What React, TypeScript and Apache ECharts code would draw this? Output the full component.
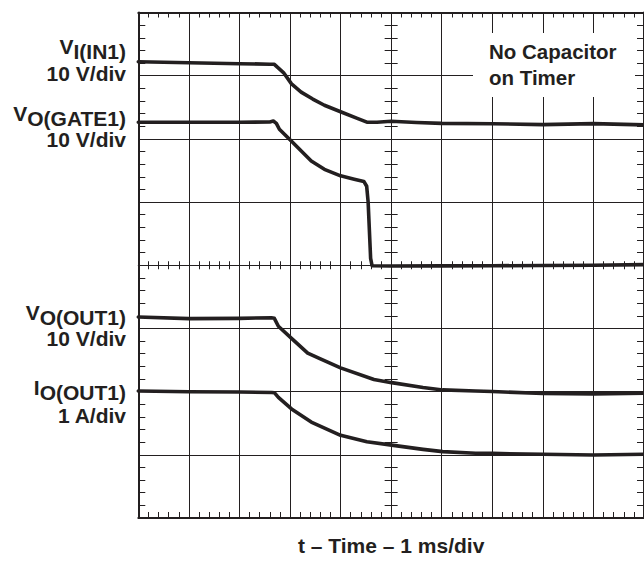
import React, { useEffect, useRef } from "react";
import * as echarts from "echarts";

// Trace samples: [time in ms from screen centre, level in divisions from screen centre]
const vIn1: [number, number][] = [
  [-5, 3.22], [-4, 3.205], [-3, 3.19], [-2.4, 3.182], [-2.31, 3.18], [-2.25, 3.135],
  [-2.13, 3.05], [-1.97, 2.87], [-1.78, 2.74], [-1.55, 2.63], [-1.32, 2.532],
  [-1.0, 2.43], [-0.67, 2.325], [-0.48, 2.264], [-0.28, 2.264], [0.0, 2.28],
  [0.5, 2.26], [1.0, 2.246], [2.0, 2.24], [3.0, 2.225], [4.0, 2.242], [5.0, 2.222],
];
const vGate1: [number, number][] = [
  [-5, 2.262], [-4, 2.262], [-3, 2.262], [-2.4, 2.268], [-2.33, 2.282], [-2.27, 2.246],
  [-2.21, 2.153], [-1.97, 1.961], [-1.58, 1.649], [-1.32, 1.518], [-1.0, 1.415],
  [-0.73, 1.362], [-0.54, 1.327], [-0.484, 1.25], [-0.455, 1.0], [-0.406, 0.11],
  [-0.377, -0.008], [0, -0.012], [1, -0.01], [2, -0.008], [3, -0.004], [4, 0.0], [5, 0.01],
];
const vOut1: [number, number][] = [
  [-5, -0.82], [-4, -0.845], [-3, -0.84], [-2.37, -0.83], [-2.31, -0.84], [-2.23, -0.965],
  [-1.97, -1.157], [-1.65, -1.391], [-1.41, -1.479], [-1.0, -1.624], [-0.34, -1.807],
  [0.01, -1.858], [0.63, -1.936], [1.02, -1.973], [1.67, -1.989], [2.0, -1.998],
  [3.0, -2.03], [4.0, -2.035], [5.0, -2.025],
];
const iOut1: [number, number][] = [
  [-5, -1.989], [-4, -2.002], [-3, -2.006], [-2.36, -2.014], [-2.31, -2.017], [-2.23, -2.092],
  [-1.97, -2.274], [-1.58, -2.482], [-1.0, -2.691], [-0.48, -2.794], [0.01, -2.847],
  [0.63, -2.914], [1.02, -2.95], [1.67, -2.976], [2.0, -2.978], [3.0, -2.992],
  [4.0, -3.003], [5.0, -2.992],
];

const channelMain = ["V", "V", "V", "I"];
const channelSub = ["I(IN1)", "O(GATE1)", "O(OUT1)", "O(OUT1)"];
const channelScale = ["10 V/div", "10 V/div", "10 V/div", "1 A/div"];
const xAxisTitle = "t – Time – 1 ms/div";
const noteLines = ["No Capacitor", "on Timer"];

// Layout / style
const INK = "#231f20";
const FAMILY = '"Liberation Sans", Arial, Helvetica, sans-serif';
const LABEL_FONT = `bold 21px ${FAMILY}`;
const NOTE_FONT = `bold 20.5px ${FAMILY}`;
const labelRight = 126;
const labelHeadY = [49.3, 116.3, 315.3, 390.3];
const labelScaleY = [73.3, 139.8, 338.8, 415.3];

function buildOption(): any {
  const tickLine = { color: INK, width: 1 };
  const xBase = { type: "value", min: -5, max: 5, interval: 1, axisLabel: { show: false }, splitLine: { show: false } };
  const yBase = { type: "value", min: -4, max: 4, interval: 1, axisLabel: { show: false }, splitLine: { show: false } };
  const ticks = (inside: boolean, length: number) => ({
    axisTick: { show: true, inside, length, lineStyle: tickLine },
    minorTick: { show: true, splitNumber: 5, length, lineStyle: tickLine },
  });
  const border = { onZero: false, lineStyle: { color: INK, width: 2 } };
  const centre = { onZero: true, onZeroAxisIndex: 0, lineStyle: { color: INK, width: 1 } };

  const xAxis = [
    {
      ...xBase, position: "bottom", axisLine: border, ...ticks(true, 6),
      splitLine: { show: true, lineStyle: { color: INK, width: 1 } },
      name: xAxisTitle, nameLocation: "middle", nameGap: 19,
      nameTextStyle: { color: INK, fontSize: 21, fontWeight: "bold", fontFamily: FAMILY, lineHeight: 17 },
    },
    { ...xBase, position: "top", axisLine: border, ...ticks(true, 5) },
    { ...xBase, axisLine: centre, ...ticks(true, 4) },
    { ...xBase, axisLine: centre, ...ticks(false, 4) },
  ];
  const yAxis = [
    {
      ...yBase, position: "left", axisLine: border, ...ticks(true, 7),
      splitLine: { show: true, lineStyle: { color: INK, width: 1 } },
    },
    { ...yBase, position: "right", axisLine: border, ...ticks(true, 7) },
    { ...yBase, axisLine: centre, ...ticks(true, 6.5) },
    { ...yBase, axisLine: centre, ...ticks(false, 6.5) },
  ];

  const traces = [vIn1, vGate1, vOut1, iOut1];
  const series = traces.map((data, i) => ({
    type: "line",
    name: channelMain[i] + channelSub[i],
    xAxisIndex: 0,
    yAxisIndex: 0,
    data,
    showSymbol: false,
    symbol: "none",
    smooth: false,
    z: 5,
    lineStyle: { color: INK, width: 3.6, cap: "round", join: "round" },
  }));

  const graphic: any[] = [
    { type: "rect", z: 100, silent: true, shape: { x: 473, y: 33, width: 162, height: 64 }, style: { fill: "#ffffff" } },
    {
      type: "text", z: 101, x: 489, y: 64.3,
      style: { text: noteLines.join("\n"), font: NOTE_FONT, fill: INK, textAlign: "left", textVerticalAlign: "middle", lineHeight: 26.4 },
    },
  ];
  channelMain.forEach((m, i) => {
    graphic.push({
      type: "text", z: 101, x: labelRight, y: labelHeadY[i],
      style: {
        text: `{m|${m}}{s|${channelSub[i]}}`,
        font: LABEL_FONT, fill: INK, textAlign: "right", textVerticalAlign: "middle",
        rich: {
          m: { font: LABEL_FONT, fill: INK, lineHeight: 16, padding: [0, 0, 5, 0] },
          s: { font: LABEL_FONT, fill: INK, lineHeight: 16, padding: [5, 0, 0, 0] },
        },
      },
    });
    graphic.push({
      type: "text", z: 101, x: labelRight, y: labelScaleY[i],
      style: { text: channelScale[i], font: LABEL_FONT, fill: INK, lineHeight: 16, textAlign: "right", textVerticalAlign: "middle" },
    });
  });

  return {
    animation: false,
    backgroundColor: "#ffffff",
    grid: { left: 138.3, top: 12.5, width: 512, height: 513.2, containLabel: false },
    xAxis,
    yAxis,
    series,
    graphic,
  };
}

export default function App() {
  const ref = useRef<HTMLDivElement>(null);
  useEffect(() => {
    document.body.style.margin = "0";
    document.body.style.overflow = "hidden";
    if (!ref.current) return;
    const chart = echarts.init(ref.current, undefined, { renderer: "svg" });
    chart.setOption(buildOption());
    return () => chart.dispose();
  }, []);
  return <div ref={ref} style={{ position: "fixed", left: 0, top: 0, width: 644, height: 561 }} />;
}
